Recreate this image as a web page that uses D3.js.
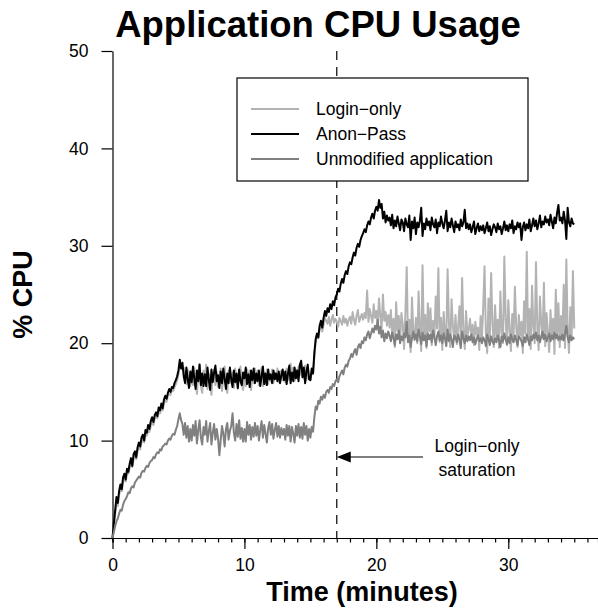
<!DOCTYPE html>
<html><head><meta charset="utf-8">
<script src="https://cdn.jsdelivr.net/npm/d3@7"></script>
<style>body{margin:0;background:#fff}svg{display:block}text{font-family:"Liberation Sans",Arial,Helvetica,sans-serif}</style>
</head><body><svg id="c" width="598" height="608"></svg>
<script>
const timeStep = 0.1; // minutes between samples
const anonPass = [
0,1.5,2.8,4.2,3.6,4.8,5.5,5.0,6.2,6.6,
6.0,7.1,6.8,7.6,8.2,7.4,8.6,8.9,8.3,9.3,
9.8,9.4,10.3,10.6,10.0,11.1,10.8,11.6,11.2,12.0,
12.4,11.9,12.6,12.9,12.5,13.4,13.1,13.8,13.3,14.2,
14.6,14.3,14.9,15.3,15.0,15.5,15.4,15.9,16.2,16.6,
17.2,18.3,17.4,18.0,16.6,15.9,17.5,16.3,15.4,17.1,
16.0,17.6,16.4,15.3,17.2,16.1,17.8,15.7,16.9,15.6,
16.8,15.6,17.5,16.2,15.2,17.3,16.0,17.0,17.7,16.1,
16.7,15.4,17.1,15.9,17.4,16.3,15.3,16.9,15.9,17.5,
16.3,15.5,17.2,16.0,16.9,15.4,17.3,16.1,15.7,17.0,
16.4,17.5,15.8,16.8,15.5,17.2,16.2,17.4,15.9,16.9,
16.1,17.2,15.6,16.6,17.6,15.8,16.9,15.7,17.3,16.3,
16.8,15.9,17.2,16.3,16.9,16.1,17.1,15.9,16.7,17.3,
16.2,17.1,15.8,16.9,17.7,15.9,17.0,16.1,17.5,16.4,
17.2,16.1,17.8,18.2,16.5,17.5,15.9,17.1,17.8,16.3,
16.2,17.4,16.9,19.0,20.4,21.0,20.6,21.8,22.3,21.6,
22.6,23.3,22.8,23.6,23.2,24.0,23.5,24.3,23.9,24.7,
25.0,25.6,25.3,26.1,26.6,26.2,27.0,27.4,27.1,27.9,
28.3,28.1,28.8,29.3,29.0,29.8,30.2,29.9,30.6,31.0,
31.3,31.7,31.4,32.1,32.5,32.2,32.9,33.3,32.8,33.6,
34.0,33.6,34.7,33.9,34.3,32.8,33.5,32.4,33.1,32.6,
32.9,32.1,33.2,31.8,32.6,32.0,33.0,32.3,31.6,32.7,
32.4,31.5,32.8,32.2,31.9,33.1,30.6,32.5,31.8,32.9,
31.2,32.4,31.9,32.6,33.9,31.0,32.3,31.7,32.8,32.1,
32.5,31.6,32.9,32.2,31.9,32.7,31.3,32.4,32.0,33.0,
32.3,31.8,32.6,33.6,31.5,32.4,31.9,32.8,32.1,31.4,
32.5,31.9,32.2,31.6,32.7,32.0,32.4,33.7,31.8,32.3,
31.7,32.2,31.4,31.9,32.5,31.2,31.8,32.3,31.5,32.0,
31.6,32.1,31.3,31.8,32.4,31.5,32.0,31.1,31.7,32.2,
31.9,31.4,32.3,31.7,32.0,31.2,31.8,32.5,31.6,32.1,
31.5,32.2,31.8,32.6,31.3,32.0,31.7,32.4,31.9,32.3,
30.6,31.9,32.4,31.6,32.2,31.8,32.7,31.5,32.1,32.8,
32.0,32.6,31.7,32.3,33.1,31.9,32.5,32.2,33.0,32.4,
32.7,32.1,33.2,32.5,31.8,32.9,32.3,33.4,34.2,32.6,
32.9,32.3,33.5,32.6,30.7,33.9,32.4,32.0,32.8,32.3,
32.2];
const loginOnly = [
0,1.2,2.4,3.5,3.3,4.4,5.0,4.8,5.7,6.2,
5.8,6.7,6.6,7.2,7.7,7.3,8.1,8.5,8.1,8.9,
9.3,9.1,9.8,10.2,9.8,10.6,10.5,11.0,10.9,11.5,
11.9,11.6,12.2,12.5,12.3,13.0,12.8,13.3,13.1,13.8,
14.1,14.0,14.6,14.8,14.7,15.2,15.1,15.5,15.8,16.2,
16.8,17.9,17.9,17.3,17.5,16.6,15.8,17.3,16.2,15.6,
17.1,15.7,17.5,16.4,14.8,16.9,17.9,15.6,14.9,17.2,
16.0,17.8,15.3,16.9,15.9,14.7,16.8,17.3,15.7,17.1,
15.5,16.6,17.4,15.1,16.4,17.6,15.7,14.9,17.2,16.5,
15.9,17.0,15.4,17.4,16.2,15.3,16.9,17.6,15.8,15.2,
16.9,15.6,17.3,16.0,17.2,15.2,16.7,15.9,17.4,16.1,
17.2,15.7,16.4,17.5,15.6,17.0,15.9,17.3,15.8,16.8,
16.1,17.3,15.9,17.0,16.3,17.4,16.0,16.8,17.2,16.2,
17.0,16.0,17.4,16.2,17.1,17.9,16.3,17.5,16.1,17.3,
16.4,17.6,16.7,17.9,17.3,16.4,17.7,16.2,17.3,16.6,
16.2,17.2,16.8,18.6,20.1,20.8,20.5,21.4,21.9,21.2,
21.9,22.6,22.3,22.0,22.7,21.8,22.4,22.9,22.1,22.5,
22.2,21.7,22.6,22.3,21.9,22.8,22.1,22.5,21.8,22.4,
22.7,22.0,23.2,22.4,21.9,22.8,23.4,22.2,22.6,23.0,
22.4,23.1,22.6,25.4,22.2,23.5,22.8,22.1,24.0,22.6,
23.3,22.0,24.6,22.7,21.5,25.0,22.3,23.2,21.8,22.9,
21.6,23.4,20.8,22.5,19.6,24.2,21.3,22.8,20.2,23.1,
21.9,19.4,23.0,27.8,20.5,22.4,19.1,24.7,21.2,20.3,
22.6,20.0,25.3,21.4,19.2,28.0,20.7,22.9,19.5,24.1,
21.2,23.6,19.8,22.3,20.6,24.8,21.5,27.7,20.1,22.6,
19.3,23.2,21.0,20.2,27.6,22.1,19.6,24.5,21.8,20.4,
22.9,19.9,21.7,23.8,20.3,26.7,21.1,19.4,23.3,20.8,
21.4,22.5,20.6,21.9,19.8,22.2,20.9,21.6,19.3,22.8,
20.5,23.7,27.9,21.0,19.0,24.6,20.4,27.2,22.1,19.6,
23.9,20.7,22.4,19.5,25.3,21.2,20.0,28.9,22.6,19.8,
24.4,21.5,19.2,23.0,20.6,25.8,21.8,19.6,22.9,20.8,
22.2,19.0,24.3,21.0,29.4,20.3,23.5,19.4,25.9,21.7,
20.0,28.3,21.6,19.3,24.8,22.0,20.5,26.2,19.7,23.1,
21.2,19.1,23.4,20.4,22.5,18.9,25.5,21.0,24.1,19.6,
22.8,20.3,26.0,19.5,28.6,21.3,19.0,23.7,20.6,27.4,
21.5];
const unmodified = [
0,0.6,1.2,1.7,2.0,2.5,2.9,2.8,3.4,3.8,
4.0,4.3,4.7,4.6,5.1,5.3,5.2,5.7,5.9,6.1,
6.3,6.2,6.7,6.9,6.8,7.2,7.4,7.3,7.7,7.9,
8.0,8.3,8.2,8.6,8.8,8.7,9.1,9.0,9.4,9.5,
9.7,9.6,10.0,10.2,10.1,10.5,10.7,10.6,11.1,11.5,
12.2,12.8,12.1,11.7,10.6,11.8,10.3,11.5,9.9,11.2,
10.0,11.6,10.5,12.0,9.7,11.1,12.1,10.3,9.6,11.4,
10.6,12.0,9.9,11.0,11.8,9.6,10.8,11.7,10.1,11.2,
10.2,8.5,10.0,11.5,10.7,9.4,11.2,11.8,10.1,11.0,
11.5,12.8,10.8,10.0,11.7,10.4,12.1,10.2,11.3,9.9,
11.2,9.9,11.9,10.6,11.6,10.1,11.4,10.4,11.8,10.5,
11.5,10.0,11.1,12.0,10.3,11.6,10.7,9.8,11.3,11.9,
10.6,11.7,10.2,11.1,11.8,10.4,11.5,10.3,11.3,10.6,
11.2,10.1,11.6,10.5,11.5,9.9,11.4,10.7,9.8,11.5,
10.5,11.7,10.3,11.4,10.2,11.8,10.6,11.5,10.0,11.2,
10.3,11.4,10.9,12.4,13.5,13.2,14.1,13.8,14.5,14.2,
14.7,14.4,15.0,15.2,14.9,15.5,15.3,15.8,15.6,16.1,
16.3,16.0,16.6,16.9,17.2,16.8,17.5,17.8,17.6,18.2,
18.4,18.9,18.6,19.1,19.4,18.8,19.6,19.9,19.5,20.2,
20.0,20.6,20.3,20.9,21.2,20.5,21.0,21.5,21.1,21.8,
21.4,22.4,21.0,21.7,20.6,21.3,20.2,21.0,20.5,21.2,
20.8,20.2,21.1,20.5,19.8,20.9,20.4,21.3,20.0,20.7,
20.3,21.0,20.6,22.2,20.1,20.8,19.6,20.5,21.2,20.4,
20.9,20.2,21.4,20.7,19.9,21.1,20.3,20.8,19.7,21.0,
20.4,20.9,20.1,21.3,20.6,19.8,20.7,21.2,20.3,20.8,
20.0,21.0,20.5,19.7,21.4,20.2,20.9,20.4,19.6,20.8,
20.6,20.1,20.9,20.3,19.5,21.2,20.5,20.0,20.8,20.2,
20.7,20.3,20.9,20.1,20.6,19.9,20.4,20.8,20.2,20.5,
20.0,20.6,20.3,19.7,20.9,20.4,19.8,20.7,20.2,19.9,
20.5,20.1,20.8,20.3,19.6,20.7,20.2,21.0,20.4,19.9,
20.6,20.0,20.9,20.4,20.1,20.8,20.3,19.8,20.7,20.5,
20.2,19.7,20.6,20.1,20.9,20.4,19.8,20.7,20.3,20.9,
20.5,21.1,20.3,20.8,20.1,20.7,21.2,20.4,20.9,20.2,
20.6,21.0,20.2,20.8,20.4,21.1,20.5,20.9,20.3,20.7,
20.4,20.9,20.3,21.0,21.8,20.6,20.1,20.8,20.3,20.6,
20.4];
const seriesNames = ["Login\u2212only", "Anon\u2212Pass", "Unmodified application"];
const seriesColors = ["#b3b3b3", "#000000", "#808080"];
const xMajorTicks = [0, 10, 20, 30];
const xMinorTicks = d3.range(0, 37, 1);
const yTicks = [0, 10, 20, 30, 40, 50];
const saturationTime = 17;
const annotationLines = ["Login\u2212only", "saturation"];

const svg = d3.select("#c");
const x = d3.scaleLinear().domain([0, 36.8]).range([112.5, 598]);
const y = d3.scaleLinear().domain([0, 50]).range([538, 51]);

const font = '"Liberation Sans", Arial, Helvetica, sans-serif';

// title
svg.append("text").attr("x", 318).attr("y", 37).attr("text-anchor", "middle")
  .attr("font-size", 36.5).attr("font-weight", "bold").text("Application CPU Usage");

// axes
const xMinor = svg.append("g").attr("transform", `translate(0,${y(0)})`)
  .call(d3.axisBottom(x).tickValues(xMinorTicks).tickSize(4.5).tickFormat(""));
xMinor.select(".domain").attr("stroke-width", 1.2);
xMinor.selectAll(".tick line").attr("stroke-width", 1.2);
const xMajor = svg.append("g").attr("transform", `translate(0,${y(0)})`)
  .call(d3.axisBottom(x).tickValues(xMajorTicks).tickSize(11).tickPadding(9.5).tickFormat(d3.format("d")));
xMajor.select(".domain").remove();
xMajor.selectAll(".tick line").attr("stroke-width", 1.2);
xMajor.selectAll("text").attr("font-size", 17.5).attr("font-family", font);

const yAx = svg.append("g").attr("transform", `translate(${x(0)},0)`)
  .call(d3.axisLeft(y).tickValues(yTicks).tickSize(11).tickPadding(13).tickSizeOuter(0));
yAx.select(".domain").attr("stroke-width", 1.2);
yAx.selectAll(".tick line").attr("stroke-width", 1.2);
yAx.selectAll("text").attr("font-size", 17.5).attr("font-family", font);

// axis titles
svg.append("text").attr("x", 362).attr("y", 601).attr("text-anchor", "middle")
  .attr("font-size", 27).attr("font-weight", "bold").text("Time (minutes)");
svg.append("text").attr("transform", `translate(32,${(y(0)+y(50))/2}) rotate(-90)`)
  .attr("text-anchor", "middle").attr("font-size", 27).attr("font-weight", "bold").text("% CPU");

// dashed saturation line
svg.append("line").attr("x1", x(saturationTime)).attr("x2", x(saturationTime))
  .attr("y1", y(50)).attr("y2", y(0)).attr("stroke", "#000").attr("stroke-width", 1.2)
  .attr("stroke-dasharray", "9,7");

// series
const line = d3.line().x((d, i) => x(i * timeStep)).y(d => y(d));
const data = [loginOnly, anonPass, unmodified];
data.forEach((s, k) => {
  svg.append("path").datum(s).attr("d", line).attr("fill", "none")
    .attr("stroke", seriesColors[k]).attr("stroke-width", 2).attr("stroke-linejoin", "round");
});

// legend
const lg = svg.append("g");
lg.append("rect").attr("x", 237).attr("y", 78).attr("width", 291).attr("height", 103)
  .attr("fill", "#fff").attr("stroke", "#000").attr("stroke-width", 1.2);
seriesNames.forEach((n, k) => {
  const yy = 109 + k * 25;
  lg.append("line").attr("x1", 251).attr("x2", 299).attr("y1", yy).attr("y2", yy)
    .attr("stroke", seriesColors[k]).attr("stroke-width", 2);
  lg.append("text").attr("x", 316).attr("y", yy).attr("dy", "0.35em")
    .attr("font-size", 17.5).text(n);
});

// annotation
const ay = 457;
svg.append("line").attr("x1", 423).attr("x2", x(saturationTime) + 10).attr("y1", ay).attr("y2", ay)
  .attr("stroke", "#000").attr("stroke-width", 1.2);
const tip = x(saturationTime);
svg.append("path").attr("d", `M${tip},${ay}L${tip+14},${ay-5.5}L${tip+14},${ay+5.5}Z`).attr("fill", "#000");
annotationLines.forEach((t, k) => {
  svg.append("text").attr("x", 477).attr("y", 452 + k * 24).attr("text-anchor", "middle")
    .attr("font-size", 17.5).text(t);
});
</script></body></html>
